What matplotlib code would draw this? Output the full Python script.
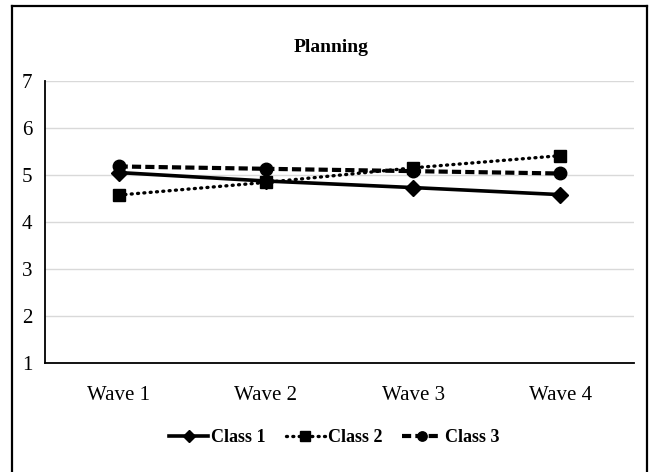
import matplotlib
matplotlib.use("Agg")
import matplotlib.pyplot as plt
from matplotlib.lines import Line2D

waves = ["Wave 1", "Wave 2", "Wave 3", "Wave 4"]
class1 = [5.05, 4.87, 4.73, 4.58]
class2 = [4.57, 4.84, 5.15, 5.41]
class3 = [5.18, 5.13, 5.08, 5.03]
yticks = [1, 2, 3, 4, 5, 6, 7]

plt.rcParams["font.family"] = ["Liberation Serif", "DejaVu Serif"]

W, H = 650, 472
fig = plt.figure(figsize=(W / 100, H / 100), dpi=100)
fig.patch.set_facecolor("white")

# outer chart frame (open at the bottom)
frame_kw = dict(transform=fig.transFigure, color="black", lw=1.6, solid_capstyle="projecting")
fig.add_artist(Line2D([11.5 / W, 11.5 / W], [0, 1 - 5.7 / H], **frame_kw))
fig.add_artist(Line2D([11.5 / W, 646.5 / W], [1 - 5.7 / H, 1 - 5.7 / H], **frame_kw))
fig.add_artist(Line2D([646.5 / W, 646.5 / W], [0, 1 - 5.7 / H], **frame_kw))

left, right = 45 / W, 634 / W
bottom, top = 1 - 362.7 / H, 1 - 81 / H
ax = fig.add_axes([left, bottom, right - left, top - bottom])

x = list(range(len(waves)))
l1, = ax.plot(x, class1, color="black", lw=2.6, ls="-", marker="D",
              markersize=8.5, markerfacecolor="black", markeredgecolor="black", label="Class 1")
l2, = ax.plot(x, class2, color="black", lw=2.4, ls=(0, (0.3, 1.6)), dash_capstyle="round",
              marker="s", markersize=9, markerfacecolor="black", markeredgecolor="black",
              label="Class 2")
l3, = ax.plot(x, class3, color="black", lw=3.0, ls=(0, (2.2, 1.0)),
              marker="o", markersize=9, markerfacecolor="black", markeredgecolor="black",
              label="Class 3")

ax.set_xlim(-0.5, len(waves) - 0.5)
ax.set_ylim(1, 7)
ax.set_yticks(yticks)
ax.set_xticks(x)
ax.set_xticklabels(waves)
ax.tick_params(axis="both", length=0, labelsize=15)
ax.tick_params(axis="x", pad=17)
ax.tick_params(axis="y", pad=9)
ax.grid(axis="y", color="#d9d9d9", lw=1.0)
ax.set_axisbelow(True)
for side in ("top", "right"):
    ax.spines[side].set_visible(False)
for side in ("left", "bottom"):
    ax.spines[side].set_color("black")
    ax.spines[side].set_linewidth(1.3)

fig.text(331 / W, 1 - 47 / H, "Planning", ha="center", va="center",
         fontsize=14, fontweight="bold")

fig.legend(handles=[l1, l2, l3], loc="center", bbox_to_anchor=(334 / W, 1 - 438 / H),
           ncol=3, frameon=False, prop={"size": 13, "weight": "bold"},
           handlelength=2.2, handletextpad=0.15, columnspacing=1.1, markerscale=0.75)

fig.savefig("out.png", dpi=100, facecolor="white")
